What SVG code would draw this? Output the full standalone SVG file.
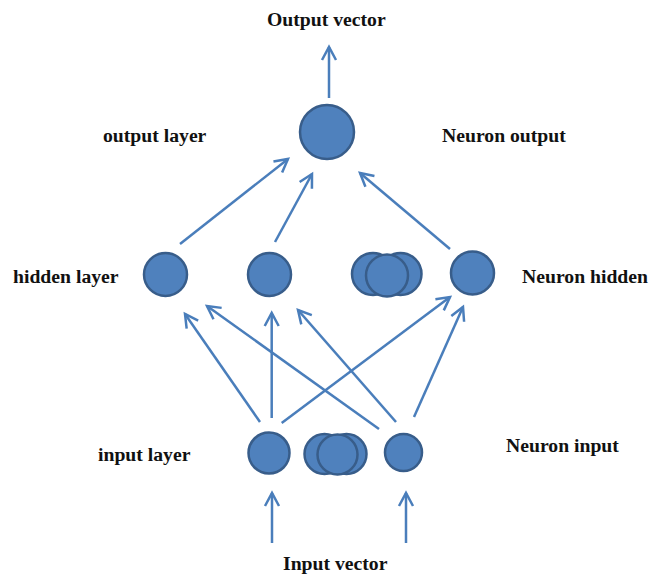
<svg xmlns="http://www.w3.org/2000/svg" width="650" height="577" viewBox="0 0 650 577">
<style>
  .n { fill: #4f81bd; stroke: #385d8a; stroke-width: 2.5; }
  .c { stroke: #4a7ebb; stroke-width: 2.5; fill: none; marker-end: url(#arr); }
  .t { font-family: "Liberation Serif", "Times New Roman", serif; font-weight: bold; font-size: 19.7px; fill: #111; }
</style>
<defs>
  <marker id="arr" markerUnits="userSpaceOnUse" viewBox="-16 -10 18 20" refX="0" refY="0" markerWidth="18" markerHeight="20" orient="auto" overflow="visible">
    <path d="M-13,-7 L0,0 L-13,7" fill="none" stroke="#4a7ebb" stroke-width="2.5" stroke-linejoin="miter"/>
  </marker>
</defs>
<rect width="650" height="577" fill="#fff"/>
<g id="connectors">
  <line class="c" x1="260" y1="422" x2="185" y2="314"/>
  <line class="c" x1="271.7" y1="418" x2="271.7" y2="313"/>
  <line class="c" x1="281.7" y1="423" x2="450" y2="297"/>
  <line class="c" x1="379" y1="429" x2="207" y2="306"/>
  <line class="c" x1="396" y1="422" x2="298" y2="310"/>
  <line class="c" x1="414" y1="417" x2="463" y2="307"/>
  <line class="c" x1="180" y1="244" x2="288" y2="159"/>
  <line class="c" x1="275" y1="242" x2="312" y2="174"/>
  <line class="c" x1="450" y1="249" x2="360" y2="173"/>
  <line class="c" x1="329" y1="98" x2="329" y2="47"/>
  <line class="c" x1="272" y1="543" x2="272" y2="493"/>
  <line class="c" x1="406" y1="543" x2="406" y2="493"/>
</g>
<g id="output-neuron"><circle class="n" cx="327" cy="132" r="27"/></g>
<g id="hidden-1"><circle class="n" cx="165.5" cy="274.5" r="21.5"/></g>
<g id="hidden-2"><circle class="n" cx="269.5" cy="274.5" r="21.5"/></g>
<g id="hidden-stack">
  <circle class="n" cx="400.5" cy="274" r="21"/>
  <circle class="n" cx="373" cy="274" r="21"/>
  <circle class="n" cx="387" cy="275.5" r="21"/>
</g>
<g id="hidden-4"><circle class="n" cx="472.5" cy="273" r="21.5"/></g>
<g id="input-1"><circle class="n" cx="269" cy="453" r="20.5"/></g>
<g id="input-stack">
  <circle class="n" cx="346.5" cy="454" r="20"/>
  <circle class="n" cx="324.5" cy="454" r="20"/>
  <circle class="n" cx="337.5" cy="454.5" r="20"/>
</g>
<g id="input-3"><circle class="n" cx="403.5" cy="452.5" r="18.5"/></g>
<g id="labels">
  <text class="t" x="267" y="26">Output vector</text>
  <text class="t" x="103" y="142">output layer</text>
  <text class="t" x="442" y="142">Neuron output</text>
  <text class="t" x="13" y="283">hidden layer</text>
  <text class="t" x="522" y="283">Neuron hidden</text>
  <text class="t" x="98" y="461">input layer</text>
  <text class="t" x="506" y="452">Neuron input</text>
  <text class="t" x="283" y="570">Input vector</text>
</g>
</svg>
